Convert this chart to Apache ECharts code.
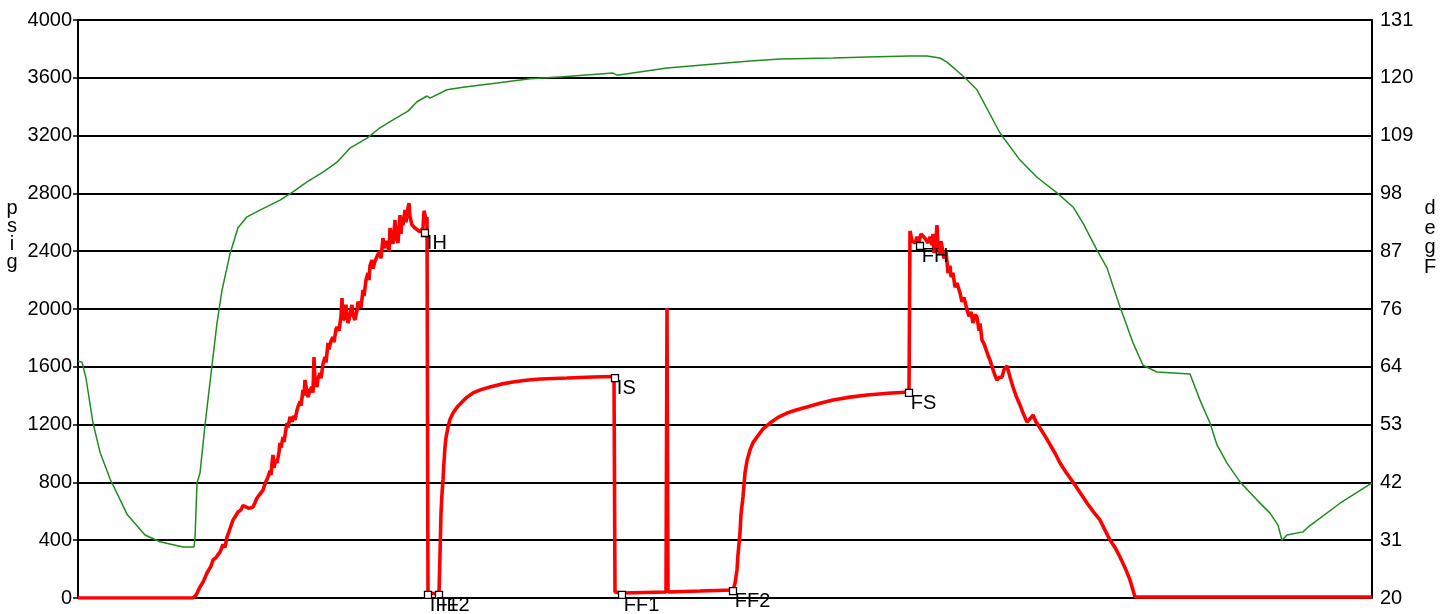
<!DOCTYPE html>
<html>
<head>
<meta charset="utf-8">
<script src="https://cdn.jsdelivr.net/npm/echarts@6.0.0/dist/echarts.min.js"></script>
<style>
html,body{margin:0;padding:0;background:#fff;}
#chart{width:1448px;height:614px;}
</style>
</head>
<body>
<div id="chart"></div>
<script>
// Pressure (psig) vs time
const pressureTime = [
  0,115,118,122,125,129,131,133,135,138,140,142,145,147,149,151,153,155,157,160,163,165,167,171,175,177,179,181,183,185,187,189,190,192,193,194,195,196,198,199,201,202,203,205,206,208,209,210,212,214,216,217,219,220,222,223,225,226,227,229,230,232,234,235,236,237,239,240,242,243,245,247,248,250,251,253,255,256,258,259,261,263,264,265,267,268,269,270,272,274,275,277,279,280,282,283,285,286,288,290,291,292,294,295,297,299,300,302,303,305,306,308,310,311,312,314,315,317,318,320,321,322,323,324,325,327,328,330,331,332,334,337,339,342,344,345,346,347,348,349,
  350,361,362,363,364,365,366,367,368,370,372,375,379,384,389,395,403,412,423,435,448,462,489,515,536,
  537,544,588,589,590,622,655,
  657,659,660,662,663,665,667,669,672,675,679,685,692,700,709,719,729,742,755,772,789,810,831,
  832,834,837,839,841,843,845,847,850,852,854,855,856,858,859,860,862,863,865,866,868,870,872,873,875,877,879,882,884,886,889,891,893,895,897,899,901,902,904,906,908,910,912,915,917,919,921,924,926,929,932,935,938,942,945,949,952,955,958,962,968,974,978,982,988,995,1002,1009,1015,1022,1027,1032,1037,1042,1047,1052,1057,1294];
const pressurePsig = [
  0,0,20,76,110,173,160,220,263,280,300,318,370,350,422,460,500,540,560,595,610,640,630,620,630,660,692,710,700,747,790,780,837,880,850,934,990,900,960,934,1010,1073,1040,1114,1080,1170,1211,1180,1253,1220,1260,1232,1300,1322,1360,1330,1439,1400,1509,1420,1391,1440,1460,1420,1668,1500,1460,1520,1557,1520,1620,1668,1630,1765,1720,1780,1806,1770,1860,1875,1850,1950,2076,1924,1940,2030,1950,1903,1960,2028,1960,1924,1990,2050,2062,2010,2131,2090,2200,2249,2200,2300,2339,2280,2330,2318,2380,2394,2350,2491,2420,2470,2477,2400,2560,2547,2450,2616,2500,2457,2560,2650,2520,2637,2580,2685,2600,2700,2733,2640,2581,2560,2547,2535,2533,2560,2680,2650,2600,2637,
  35,28,300,588,720,817,940,1045,1110,1183,1235,1280,1320,1356,1390,1419,1442,1460,1480,1495,1507,1516,1522,1529,1533,
  42,35,42,2007,42,48,55,
  100,194,300,450,580,699,865,950,1024,1075,1114,1170,1211,1250,1280,1303,1322,1348,1370,1390,1405,1417,1426,
  2540,2470,2457,2500,2464,2520,2533,2490,2457,2500,2443,2520,2388,2480,2581,2440,2374,2470,2457,2350,2400,2249,2300,2221,2250,2150,2180,2111,2050,2080,1993,1950,1980,1903,1960,1945,1850,1900,1785,1760,1720,1680,1647,1580,1540,1509,1525,1529,1580,1606,1530,1460,1400,1336,1280,1218,1240,1266,1220,1176,1110,1038,990,934,870,803,730,657,600,540,470,401,350,284,210,125,7,7];

// Temperature (degF) vs time
const tempTime = [0,4,8,15,22,32,49,67,82,105,116,117,119,122,127,134,139,144,152,160,169,182,202,215,229,245,259,272,289,302,315,330,339,349,352,369,385,419,452,485,535,539,589,669,702,755,789,832,849,862,869,887,899,922,942,959,979,995,1005,1019,1029,1042,1055,1065,1079,1112,1122,1132,1139,1149,1162,1179,1192,1200,1204,1209,1225,1230,1262,1294];
const tempDegF = [65.5,65.3,62.2,53.6,48.0,42.9,36.1,32.1,30.8,29.8,29.8,31.5,42.1,44.0,53.2,64.7,72.8,79.1,86.1,91.1,93.2,94.5,96.4,98.0,99.9,101.8,103.7,106.4,108.3,110.3,111.8,113.5,115.3,116.4,116.0,117.6,118.1,118.9,119.7,120.1,120.8,120.4,121.8,123.1,123.5,123.7,123.9,124.1,124.1,123.7,122.9,119.9,117.6,109.3,104.1,100.8,97.8,95.1,92.0,86.8,83.4,75.9,69.0,64.7,63.4,63.0,58.0,53.6,49.4,45.9,42.3,38.8,36.3,34.0,31.1,32.1,32.7,33.6,38.2,42.1];

// Test event markers
const eventNames = ['IH','IF1','IF2','IS','FF1','FF2','FS','FH'];
const eventTime  = [347,350,361,537,544,655,831,842];
const eventPsig  = [2526,21,21,1522,21,48,1419,2436];

// Axis ticks
const psigMin = 0, psigMax = 4000, psigStep = 400;
const degFMin = 20, degFMax = 131, degFStep = 11.1;

const FONT = "'Liberation Sans', Arial, sans-serif";

const pressureData = pressureTime.map((t, i) => [t, pressurePsig[i]]);
const tempData = tempTime.map((t, i) => [t, tempDegF[i] - degFMin]);
const eventData = eventNames.map((n, i) => ({ name: n, value: [eventTime[i], eventPsig[i]] }));

const chart = echarts.init(document.getElementById('chart'), null, { renderer: 'canvas' });
chart.setOption({
  animation: false,
  backgroundColor: '#fff',
  grid: { left: 78, right: 76, top: 20, bottom: 16, containLabel: false },
  xAxis: {
    type: 'value', min: 0, max: 1294,
    show: false
  },
  yAxis: [
    {
      type: 'value', min: psigMin, max: psigMax, interval: psigStep,
      position: 'left',
      axisLine: { show: true, lineStyle: { color: '#000', width: 2 } },
      axisTick: { show: true, length: 5, lineStyle: { color: '#000', width: 1.5 } },
      axisLabel: { color: '#000', fontSize: 20, fontFamily: FONT, margin: 6,
        formatter: v => String(v) },
      splitLine: { show: true, lineStyle: { color: '#000', width: 2 } }
    },
    {
      type: 'value', min: 0, max: degFMax - degFMin, interval: degFStep,
      position: 'right',
      axisLine: { show: true, lineStyle: { color: '#000', width: 2 } },
      axisTick: { show: false },
      axisLabel: { color: '#000', fontSize: 20, fontFamily: FONT, margin: 8,
        formatter: v => String(Math.round(v + degFMin)) },
      splitLine: { show: false }
    }
  ],
  graphic: [
    { type: 'text', x: 12, y: 199, style: { text: 'p\ns\ni\ng', font: '20px ' + FONT, fill: '#000', align: 'center', verticalAlign: 'top', lineHeight: 18 } },
    { type: 'text', x: 1430, y: 199, style: { text: 'd\ne\ng\nF', font: '20px ' + FONT, fill: '#000', align: 'center', verticalAlign: 'top', lineHeight: 19.5 } }
  ],
  series: [
    {
      name: 'Temperature', type: 'line', yAxisIndex: 1, data: tempData,
      showSymbol: false, smooth: false,
      lineStyle: { color: '#1f8c1f', width: 1.5 }, z: 2
    },
    {
      name: 'Pressure', type: 'line', yAxisIndex: 0, data: pressureData,
      showSymbol: false, smooth: false,
      lineStyle: { color: '#ff0000', width: 3.6 }, z: 3
    },
    {
      name: 'Events', type: 'scatter', yAxisIndex: 0, data: eventData,
      symbol: 'rect', symbolSize: 7,
      itemStyle: { color: '#fff', opacity: 1, borderColor: '#000', borderWidth: 1.3 },
      label: { show: true, formatter: p => p.name, position: [6, 5], color: '#000', opacity: 1, textBorderWidth: 0, fontSize: 20, fontFamily: FONT },
      emphasis: { disabled: true },
      z: 5
    }
  ]
});
</script>
</body>
</html>
